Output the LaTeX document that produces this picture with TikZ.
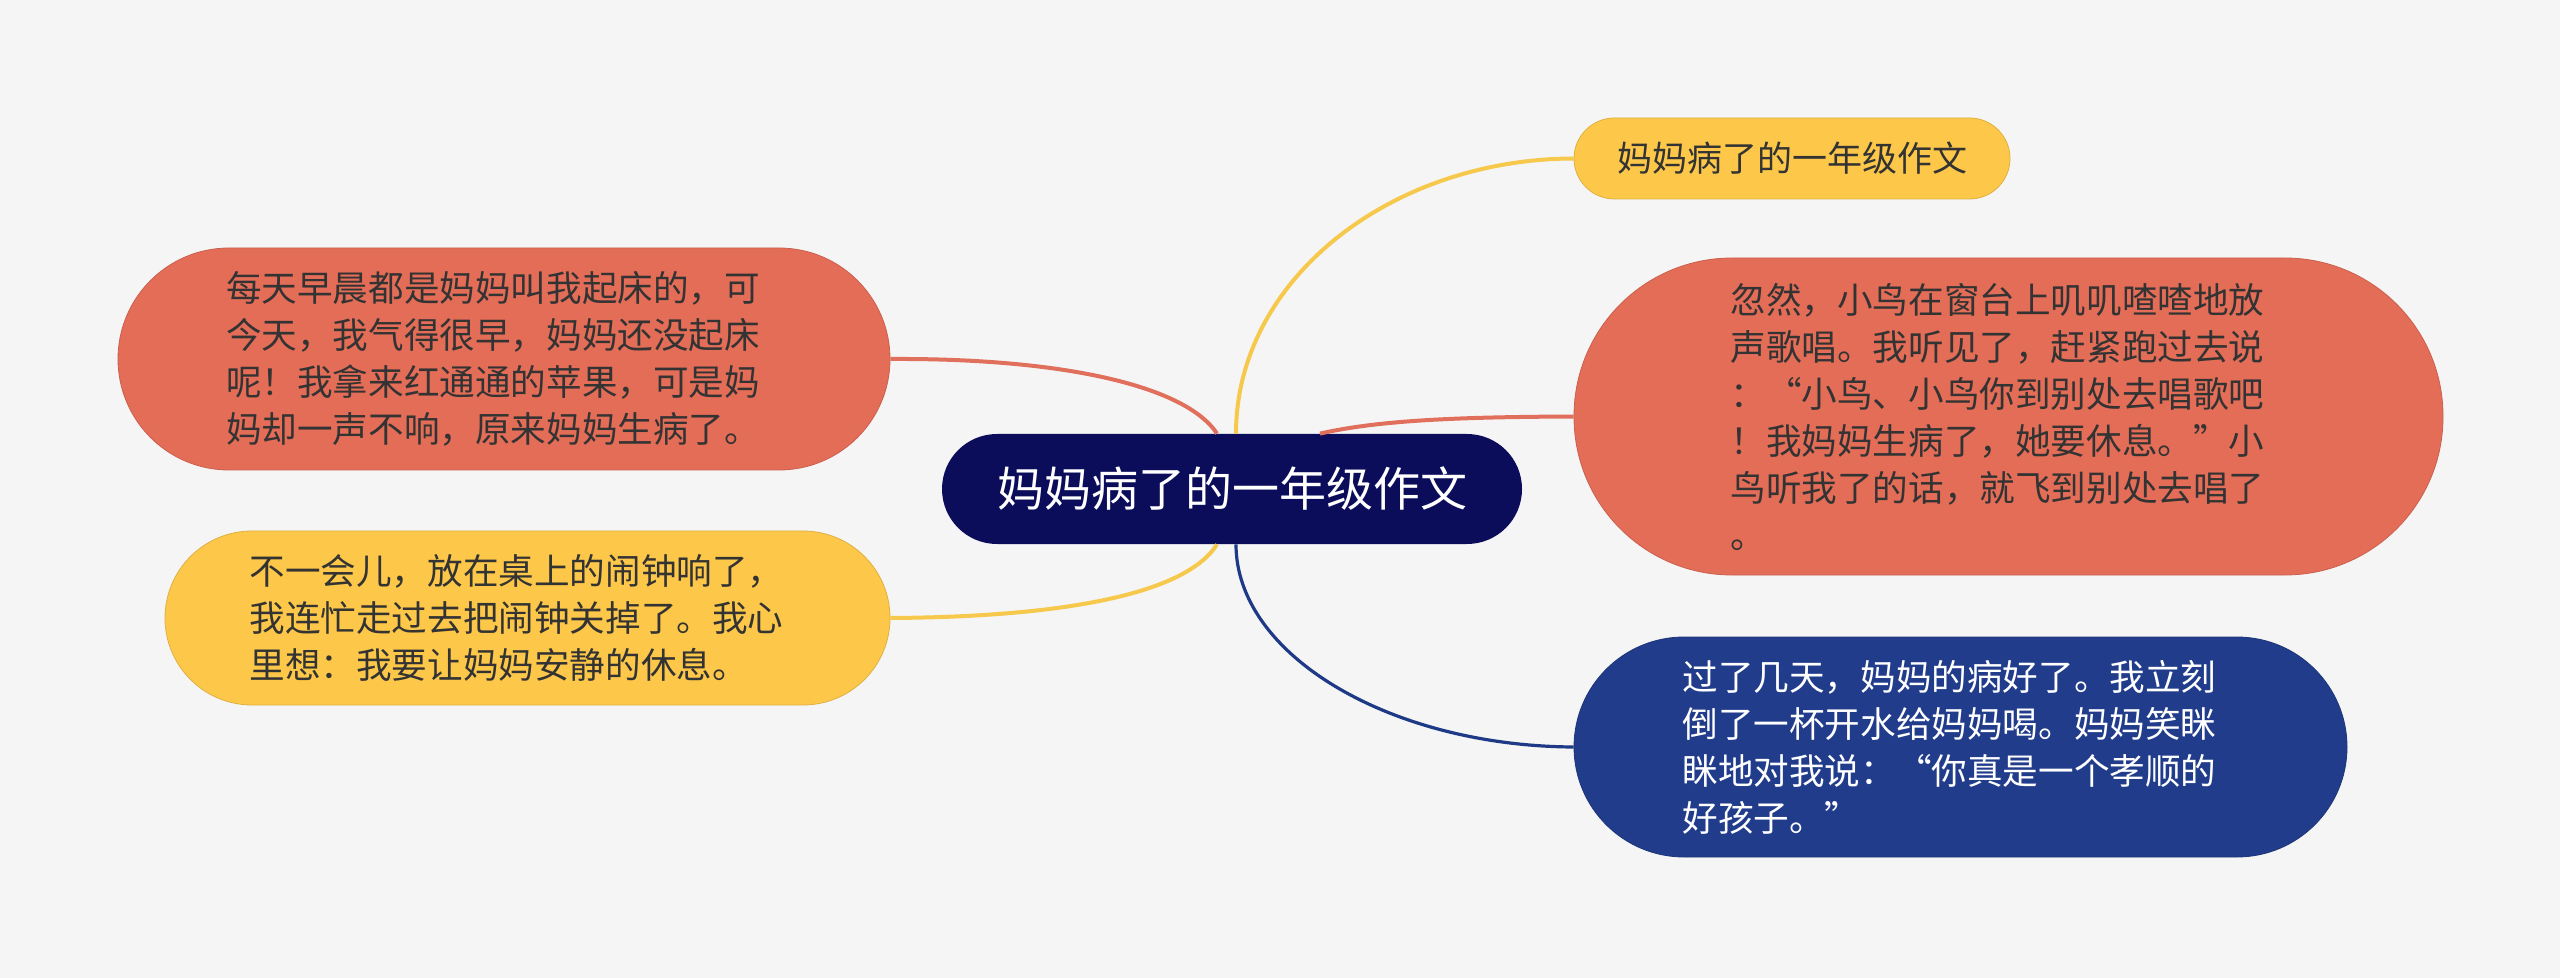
\documentclass[tikz,border=0pt]{standalone}
\usepackage{fontspec}
\setmainfont{Noto Sans CJK SC}
\usepackage{tikz}
\usetikzlibrary{positioning}
\definecolor{mmbg}{HTML}{F5F5F5}
\definecolor{mmnavy}{HTML}{0B0D5B}
\definecolor{mmred}{HTML}{E46D58}
\definecolor{mmyellow}{HTML}{FDC84A}
\definecolor{mmblue}{HTML}{213C8A}
\definecolor{mmtext}{HTML}{333333}
\definecolor{lnred}{HTML}{E06F5C}
\definecolor{lnyellow}{HTML}{F6C84B}
\definecolor{lnblue}{HTML}{1E3A86}
\tikzset{
  rootnode/.style={rectangle, fill=mmnavy, text=white, inner sep=0pt,
    minimum width=290pt, minimum height=55pt, rounded corners=27.5pt,
    font=\fontsize{23.5}{28}\selectfont},
  topic/.style={rectangle, fill=#1, draw=#1!88!black, line width=0.4pt,
    inner sep=0pt, align=left, text=mmtext,
    font=\fontsize{17.8}{23.5}\selectfont},
  para/.style={text width=278pt},
  link/.style={line width=2pt, color=#1}
}

\begin{document}
\begin{tikzpicture}[x=0.5pt, y=-0.5pt]
  \useasboundingbox[fill=mmbg] (0,0) rectangle (2560,978);
  % centre
  \node[rootnode] (title) at (1232,489) {妈妈病了的一年级作文};
  % right side
  \node[topic=mmyellow, minimum width=218pt, minimum height=40.5pt,
        rounded corners=20.25pt, font=\fontsize{17.5}{21}\selectfont] (heading) at (1792,158.5) {妈妈病了的一年级作文};
  \node[topic=mmred, para, minimum width=434.5pt, minimum height=158.5pt,
        rounded corners=79pt] (bird) at (2008.5,416.5)
    {忽然，小鸟在窗台上叽叽喳喳地放\\声歌唱。我听见了，赶紧跑过去说\\：“小鸟、小鸟你到别处去唱歌吧\\！我妈妈生病了，她要休息。”小\\鸟听我了的话，就飞到别处去唱了\\。};
  \node[topic=mmblue, para, text=white, minimum width=386.5pt, minimum height=110pt,
        rounded corners=55pt] (water) at (1960.5,747)
    {过了几天，妈妈的病好了。我立刻\\倒了一杯开水给妈妈喝。妈妈笑眯\\眯地对我说：“你真是一个孝顺的\\好孩子。”};
  % left side
  \node[topic=mmred, para, minimum width=386pt, minimum height=111pt,
        rounded corners=55.5pt] (apple) at (504,359)
    {每天早晨都是妈妈叫我起床的，可\\今天，我气得很早，妈妈还没起床\\呢！我拿来红通通的苹果，可是妈\\妈却一声不响，原来妈妈生病了。};
  \node[topic=mmyellow, para, minimum width=362.5pt, minimum height=87pt,
        rounded corners=43.5pt] (clock) at (527.5,618)
    {不一会儿，放在桌上的闹钟响了，\\我连忙走过去把闹钟关掉了。我心\\里想：我要让妈妈安静的休息。};
  % links
  \draw[link=lnyellow] ([xshift=2pt]title.north) .. controls (1236,280) and (1390,159) .. (heading.west);
  \draw[link=lnred] ([xshift=44pt]title.north) .. controls (1380,420) and (1460,417) .. (bird.west);
  \draw[link=lnblue, line width=1.6pt] ([xshift=2pt]title.south) .. controls (1236,655) and (1390,746) .. (water.west);
  \draw[link=lnred] ([xshift=-7.5pt]title.north) .. controls (1185,385) and (1060,358) .. (apple.east);
  \draw[link=lnyellow] ([xshift=-7.5pt]title.south) .. controls (1185,595) and (1060,617) .. (clock.east);
\end{tikzpicture}
\end{document}
